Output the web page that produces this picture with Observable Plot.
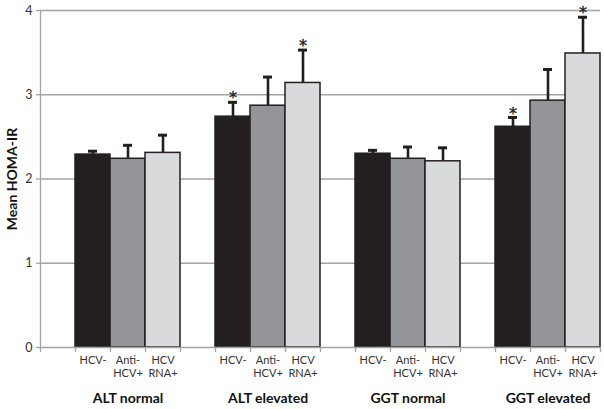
<!DOCTYPE html>
<html>
<head>
<meta charset="utf-8">
<script src="https://cdn.jsdelivr.net/npm/d3@7"></script>
<script src="https://cdn.jsdelivr.net/npm/@observablehq/plot@0.6"></script>
<style>
  html, body { margin: 0; padding: 0; background: #fff; }
  #chart svg { display: block; }
</style>
</head>
<body>
<div id="chart"></div>
<script>
// ---- data ----
const groups = ["ALT normal", "ALT elevated", "GGT normal", "GGT elevated"];
const series = ["HCV-", "Anti-HCV+", "HCV RNA+"];
const seriesLabels = ["HCV-", "Anti-\nHCV+", "HCV\nRNA+"];
const seriesColors = ["#231f20", "#939598", "#d9dadc"];
const hcvNeg = [2.29, 2.74, 2.30, 2.62];
const antiHcvPos = [2.24, 2.87, 2.24, 2.93];
const hcvRnaPos = [2.31, 3.14, 2.21, 3.49];
const hcvNegErr = [0.04, 0.17, 0.04, 0.11];
const antiHcvPosErr = [0.16, 0.34, 0.14, 0.37];
const hcvRnaPosErr = [0.21, 0.39, 0.16, 0.43];
const hcvNegSig = [false, true, false, true];
const antiHcvPosSig = [false, false, false, false];
const hcvRnaPosSig = [false, true, false, true];
const yTicks = [0, 1, 2, 3, 4];

// ---- table ----
const means = [hcvNeg, antiHcvPos, hcvRnaPos];
const errs = [hcvNegErr, antiHcvPosErr, hcvRnaPosErr];
const sigs = [hcvNegSig, antiHcvPosSig, hcvRnaPosSig];
const rows = [];
groups.forEach((g, gi) => {
  series.forEach((s, si) => {
    const slot = gi * 4 + si + 1;
    rows.push({
      group: g, series: s, label: seriesLabels[si],
      slot, x1: slot, x2: slot + 1, xc: slot + 0.5,
      value: means[si][gi], upper: means[si][gi] + errs[si][gi],
      sig: sigs[si][gi]
    });
  });
});
const groupRows = groups.map((g, gi) => ({ group: g, xc: gi * 4 + 2.5 }));
const boundaries = d3.range(0, 17);

const font = "Lato, 'Open Sans', sans-serif";

const chart = Plot.plot({
  width: 604,
  height: 409,
  marginLeft: 40,
  marginRight: 4,
  marginTop: 10,
  marginBottom: 62,
  style: { fontFamily: font, background: "#fff", overflow: "visible" },
  x: { type: "linear", domain: [0, 16], axis: null },
  y: { domain: [0, 4], axis: null },
  color: { domain: series, range: seriesColors },
  marks: [
    // gridlines
    Plot.ruleY(yTicks.filter(d => d > 0), { x1: 0, x2: 16, stroke: "#a4a4a4", strokeWidth: 1.3 }),
    // bars
    Plot.rectY(rows, { x1: "x1", x2: "x2", y1: 0, y2: "value", fill: "series", stroke: "#231f20", strokeWidth: 1.5 }),
    // error bars
    Plot.ruleX(rows, { x: "xc", y1: "value", y2: "upper", stroke: "#231f20", strokeWidth: 2.6 }),
    Plot.ruleY(rows, { x1: "x1", x2: "x2", y: "upper", insetLeft: 13, insetRight: 13, stroke: "#231f20", strokeWidth: 3 }),
    // significance stars
    Plot.text(rows.filter(d => d.sig), { x: "xc", y: "upper", text: () => "*", dy: -4, fontSize: 16, fontFamily: "DejaVu Sans", fill: "#231f20", stroke: "#231f20", strokeWidth: 0.4 }),
    // axes lines
    Plot.ruleX([0], { y1: 0, y2: 4, stroke: "#a4a4a4", strokeWidth: 1.3 }),
    Plot.ruleY([0], { x1: 0, x2: 16, stroke: "#a4a4a4", strokeWidth: 1.3 }),
    // y ticks
    Plot.ruleY(yTicks, { y: d => d, x1: 0, x2: 0, insetLeft: -4, stroke: "#a4a4a4", strokeWidth: 1.3 }),
    Plot.text(yTicks, { x: 0, y: d => d, text: d => String(d), dx: -8, textAnchor: "end", fontSize: 12.5, fill: "#333" }),
    // x ticks
    Plot.ruleX(boundaries, { x: d => d, y1: 0, y2: 0, insetBottom: -5, stroke: "#a4a4a4", strokeWidth: 1.3 }),
    // category labels
    Plot.text(rows, { x: "xc", y: 0, text: "label", lineAnchor: "top", dy: 7, fontSize: 11, lineHeight: 1.18, fill: "#333" }),
    // group labels
    Plot.text(groupRows, { x: "xc", y: 0, text: "group", dy: 51, fontSize: 14, fontWeight: "bold", fill: "#111" }),
    // y label
    Plot.text(["Mean HOMA-IR"], { frameAnchor: "left", textAnchor: "middle", text: d => d, rotate: -90, dx: -28, fontSize: 14, fontWeight: "bold", fill: "#111" })
  ]
});
document.getElementById("chart").appendChild(chart);
</script>
</body>
</html>
